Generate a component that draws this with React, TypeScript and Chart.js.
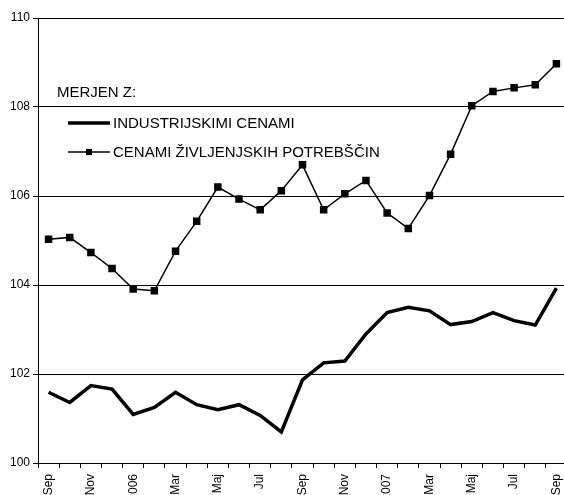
import React, { useEffect, useRef } from "react";
import { Chart, registerables } from "chart.js";

Chart.register(...registerables);

const months = [
  "Sep", "Okt", "Nov", "Dec", "2006", "Feb", "Mar", "Apr", "Maj", "Jun", "Jul", "Avg",
  "Sep", "Okt", "Nov", "Dec", "2007", "Feb", "Mar", "Apr", "Maj", "Jun", "Jul", "Avg", "Sep",
];
const shownLabels = [0, 2, 4, 6, 8, 10, 12, 14, 16, 18, 20, 22, 24];

const industrijskimi = [
  101.59, 101.36, 101.74, 101.66, 101.09, 101.25, 101.59, 101.31, 101.2, 101.31, 101.07, 100.7,
  101.87, 102.25, 102.29, 102.9, 103.38, 103.5, 103.42, 103.11, 103.18, 103.38, 103.2, 103.1, 103.93,
];
const zivljenjskih = [
  105.03, 105.07, 104.73, 104.37, 103.91, 103.87, 104.76, 105.43, 106.2, 105.93, 105.69, 106.12,
  106.7, 105.69, 106.05, 106.35, 105.62, 105.27, 106.01, 106.94, 108.03, 108.35, 108.43, 108.5, 108.97,
];

const legendTitle = "MERJEN Z:";
const seriesNames = ["INDUSTRIJSKIMI CENAMI", "CENAMI ŽIVLJENJSKIH POTREBŠČIN"];

const yMin = 100;
const yMax = 110;
const yStep = 2;

const FONT = "'Liberation Sans', Arial, sans-serif";

const legendPlugin = {
  id: "innerLegend",
  afterDraw(chart: any) {
    const ctx = chart.ctx;
    ctx.save();
    ctx.fillStyle = "#000";
    ctx.font = `15px ${FONT}`;
    ctx.textBaseline = "middle";
    ctx.textAlign = "left";
    ctx.fillText(legendTitle, 57, 93);
    const rows = [123, 152];
    chart.data.datasets.forEach((ds: any, i: number) => {
      const y = rows[i];
      ctx.strokeStyle = "#000";
      ctx.lineWidth = ds.borderWidth;
      ctx.beginPath();
      ctx.moveTo(68, y);
      ctx.lineTo(110, y);
      ctx.stroke();
      if (ds.pointRadius > 0) {
        ctx.fillStyle = "#000";
        ctx.fillRect(89 - 3, y - 3, 6, 6);
      }
      ctx.fillStyle = "#000";
      ctx.fillText(ds.label, 113, y + 0.5);
    });
    ctx.restore();
  },
};

export default function App() {
  const ref = useRef<HTMLCanvasElement | null>(null);

  useEffect(() => {
    if (!ref.current) return;
    const chart = new Chart(ref.current, {
      type: "line",
      data: {
        labels: months,
        datasets: [
          {
            label: seriesNames[0],
            data: industrijskimi,
            borderColor: "#000",
            backgroundColor: "#000",
            borderWidth: 3.5,
            pointRadius: 0,
            tension: 0,
          },
          {
            label: seriesNames[1],
            data: zivljenjskih,
            borderColor: "#000",
            backgroundColor: "#000",
            borderWidth: 1.5,
            pointStyle: "rect",
            pointRadius: 5.3,
            pointBorderWidth: 0,
            pointBackgroundColor: "#000",
            tension: 0,
          },
        ],
      },
      options: {
        animation: false,
        responsive: false,
        maintainAspectRatio: false,
        layout: { padding: { top: 18, right: 13, left: 0, bottom: 0 } },
        plugins: {
          legend: { display: false },
          tooltip: { enabled: false },
        },
        scales: {
          x: {
            type: "category",
            offset: true,
            afterFit: (scale: any) => {
              scale.height = 47;
            },
            grid: {
              offset: true,
              drawOnChartArea: false,
              drawTicks: true,
              tickLength: 5,
              color: "#000",
              lineWidth: 1,
            },
            border: { display: true, color: "#000", width: 1 },
            ticks: {
              autoSkip: false,
              maxRotation: 90,
              minRotation: 90,
              padding: 6,
              color: "#000",
              font: { family: FONT, size: 12 },
              callback: (_v: any, i: number) => (shownLabels.includes(i) ? months[i] : ""),
            },
          },
          y: {
            min: yMin,
            max: yMax,
            afterFit: (scale: any) => {
              scale.width = 38;
            },
            grid: {
              color: "#000",
              lineWidth: 1,
              drawTicks: true,
              tickLength: 5,
            },
            border: { display: true, color: "#000", width: 1 },
            ticks: {
              stepSize: yStep,
              padding: 3,
              color: "#000",
              font: { family: FONT, size: 12 },
            },
          },
        },
      },
      plugins: [legendPlugin],
    });
    return () => chart.destroy();
  }, []);

  return (
    <div
      style={{
        position: "absolute",
        left: 0,
        top: 0,
        width: 564,
        height: 495,
        overflow: "hidden",
        background: "#fff",
      }}
    >
      <canvas
        ref={ref}
        width={580}
        height={510}
        style={{ display: "block", width: 580, height: 510 }}
      />
    </div>
  );
}
